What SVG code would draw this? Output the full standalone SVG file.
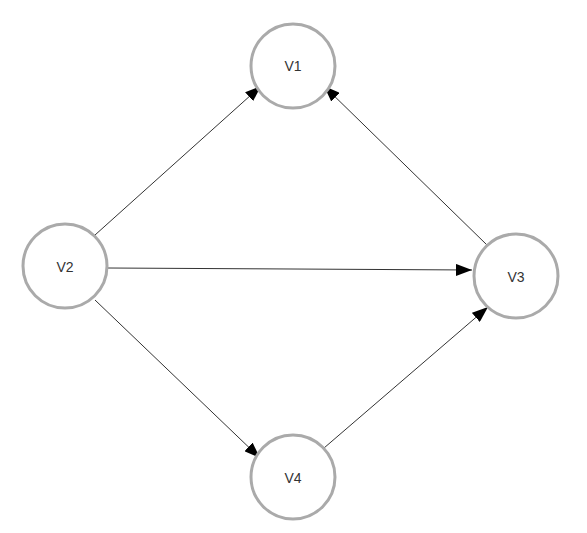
<svg xmlns="http://www.w3.org/2000/svg" width="587" height="533" viewBox="0 0 587 533">
<style>
.node circle{fill:#fff;stroke:#aaa;stroke-width:3}
.node text{font-family:"Liberation Sans",Arial,sans-serif;font-size:14px;fill:#333;text-anchor:middle;dominant-baseline:central}
.edge{stroke:#333;stroke-width:1;fill:none;marker-end:url(#arrow)}
</style>
<defs>
<marker id="arrow" viewBox="0 0 16 12" refX="16" refY="6" markerWidth="16" markerHeight="12" markerUnits="userSpaceOnUse" orient="auto">
<path d="M0,0 L16,6 L0,12 Z" fill="#000"/>
</marker>
</defs>
<rect width="587" height="533" fill="#fff"/>
<g id="connectors">
<line class="edge" x1="95" y1="235" x2="261" y2="86"/>
<line class="edge" x1="108" y1="268" x2="472" y2="270"/>
<line class="edge" x1="95" y1="300" x2="260" y2="458"/>
<line class="edge" x1="324" y1="448" x2="488" y2="307"/>
<line class="edge" x1="487" y1="245" x2="324" y2="86"/>
</g>
<g id="V1" class="node"><circle cx="293" cy="66" r="42"/><text x="293" y="66">V1</text></g>
<g id="V2" class="node"><circle cx="65" cy="266" r="42"/><text x="65" y="267">V2</text></g>
<g id="V3" class="node"><circle cx="516" cy="276" r="42"/><text x="516" y="277">V3</text></g>
<g id="V4" class="node"><circle cx="293" cy="477" r="42"/><text x="293" y="478">V4</text></g>
</svg>
